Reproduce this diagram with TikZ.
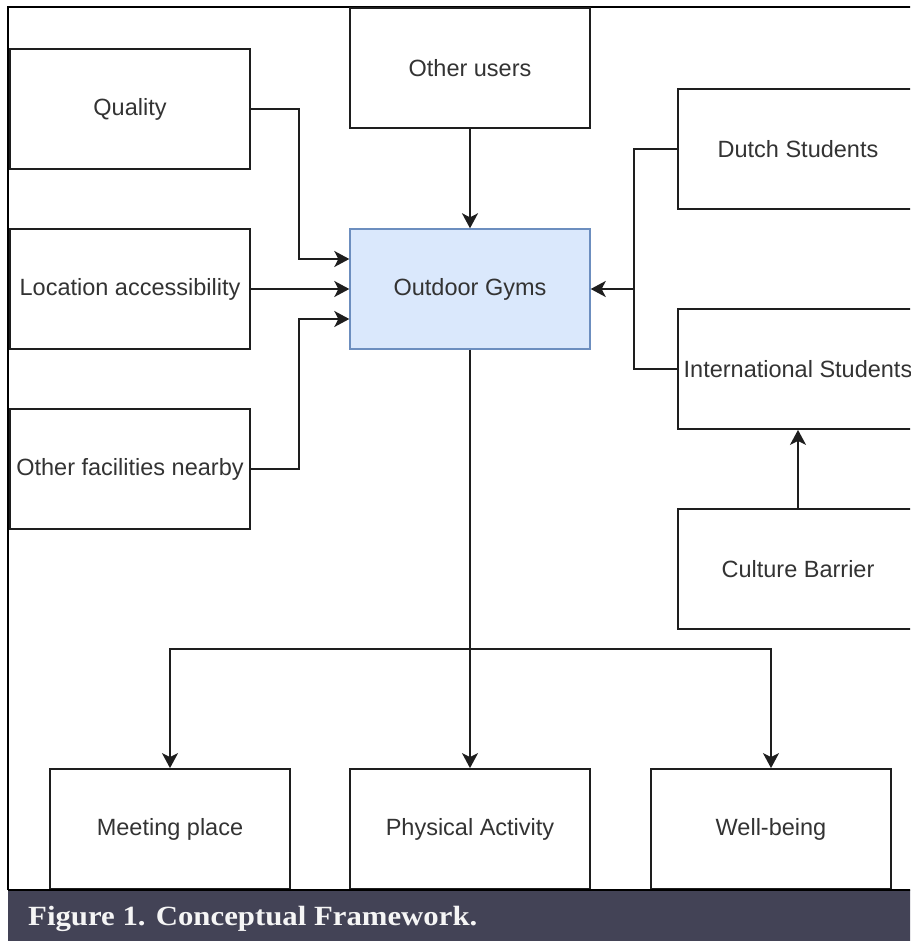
\documentclass[tikz,border=0pt]{standalone}
\usepackage{fontspec}
\usetikzlibrary{arrows.meta}
\newfontfamily\boxfont{Liberation Sans}
\newfontfamily\capfont{Liberation Serif}
\definecolor{textgray}{HTML}{333333}
\definecolor{gymfill}{HTML}{DAE8FC}
\definecolor{gymdraw}{HTML}{6C8EBF}
\definecolor{capband}{RGB}{67,67,86}
\definecolor{linecol}{HTML}{1E1E1E}
\tikzset{
  box/.style={draw=linecol, line width=1.8pt, fill=white, minimum width=240pt,
    minimum height=120pt, inner sep=0pt, text=textgray,
    font=\boxfont\fontsize{23.5}{28}\selectfont},
  conn/.style={draw=linecol, line width=1.8pt},
  arr/.style={conn, -{Stealth[length=15pt, width=16pt, inset=4pt]}},
  framel/.style={draw=black, line width=2pt}
}
\begin{document}
\begin{tikzpicture}[x=1pt, y=-1pt]
\useasboundingbox (0,0) rectangle (910,941);
\clip (0,0) rectangle (910,941);
\fill[white] (0,0) rectangle (910,941);
% frame
\draw[framel] (8,890) -- (8,7) -- (911,7);
% boxes
\node[box] (quality) at (130,109) {Quality};
\node[box] (otherusers) at (470,68) {Other users};
\node[box] (dutch) at (798,149) {Dutch Students};
\node[box] (location) at (130,289) {Location accessibility};
\node[box, fill=gymfill, draw=gymdraw, line width=1.4pt] (gyms) at (470,289) {Outdoor Gyms};
\node[box] (intl) at (798,369) {International Students};
\node[box] (facilities) at (130,469) {Other facilities nearby};
\node[box] (culture) at (798,569) {Culture Barrier};
\node[box] (meeting) at (170,829) {Meeting place};
\node[box] (physical) at (470,829) {Physical Activity};
\node[box] (wellbeing) at (771,829) {Well-being};
% junctions
\coordinate (jr) at (634,289);
\coordinate (jb) at (470,649);
% connectors
\draw[arr] (quality.east) -- ++(48,0) |- ([yshift=30pt]gyms.west);
\draw[arr] (location.east) -- (gyms.west);
\draw[arr] (facilities.east) -- ++(48,0) |- ([yshift=-30pt]gyms.west);
\draw[arr] (otherusers.south) -- (gyms.north);
\draw[arr] (dutch.west) -| (jr) -- (gyms.east);
\draw[conn] (intl.west) -| (jr);
\draw[arr] (culture.north) -- (intl.south);
\draw[arr] (gyms.south) -- (physical.north);
\draw[arr] (jb) -| (meeting.north);
\draw[arr] (jb) -| (wellbeing.north);
% caption band
\fill[capband] (8,890) rectangle (911,942);
\draw[black, line width=2pt] (8,890) -- (911,890);
\node[anchor=base west, inner sep=0pt, text={rgb,255:red,245;green,245;blue,245}] (caption) at (28,925)
  {\scalebox{1.14}[1.03]{\capfont\bfseries\fontsize{27}{32}\selectfont Figure 1. Conceptual Framework.}};
\end{tikzpicture}
\end{document}
